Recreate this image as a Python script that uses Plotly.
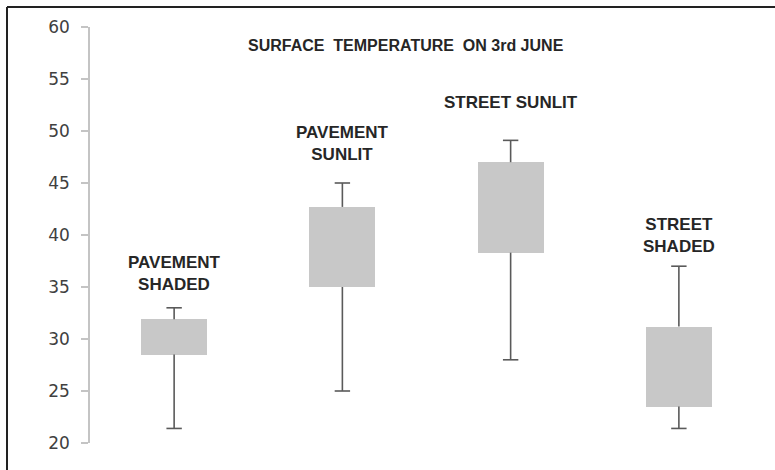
import numpy as np
import plotly.graph_objects as go

CATEGORIES = ["PAVEMENT SHADED", "PAVEMENT SUNLIT", "STREET SUNLIT", "STREET SHADED"]
LABELS = ["PAVEMENT<br>SHADED", "PAVEMENT<br>SUNLIT", "STREET SUNLIT", "STREET<br>SHADED"]
LOWER = [21.4, 25.0, 28.0, 21.4]
Q1 = [28.5, 35.0, 38.3, 23.5]
Q3 = [31.9, 42.7, 47.0, 31.2]
UPPER = [33.0, 45.0, 49.1, 37.0]
Y_TICKS = [20, 25, 30, 35, 40, 45, 50, 55, 60]

TITLE = "SURFACE  TEMPERATURE  ON 3rd JUNE"

BOX_COLOR = "#c8c8c8"
WHISKER_COLOR = "#5a5a5a"
TEXT_COLOR = "#262626"
AXIS_COLOR = "#c4c4c4"

# label centres (data units) as placed in the original
LABEL_Y = [36.3, 48.8, 52.7, 40.0]

W, H = 775, 470
MARGIN = {"l": 90, "r": 12, "t": 27, "b": 27}

x = np.arange(len(CATEGORIES))
lower = np.array(LOWER)
q1 = np.array(Q1)
q3 = np.array(Q3)
upper = np.array(UPPER)


def _whisker_segments(xs, starts, ends):
    seg_x, seg_y = [], []
    for xi, a, b in zip(xs, starts, ends):
        seg_x.extend((float(xi), float(xi), None))
        seg_y.extend((float(a), float(b), None))
    return seg_x, seg_y


fig = go.Figure()

ux, uy = _whisker_segments(x, q3, upper)
lx, ly = _whisker_segments(x, q1, lower)
fig.add_trace(
    go.Scatter(
        x=ux + lx,
        y=uy + ly,
        mode="lines",
        line={"color": WHISKER_COLOR, "width": 1.6},
        hoverinfo="skip",
        showlegend=False,
    )
)
fig.add_trace(
    go.Scatter(
        x=np.concatenate([x, x]),
        y=np.concatenate([upper, lower]),
        mode="markers",
        marker={"symbol": "line-ew", "size": 11, "line": {"color": WHISKER_COLOR, "width": 1.6}},
        hoverinfo="skip",
        showlegend=False,
    )
)
fig.add_trace(
    go.Bar(
        x=x,
        y=q3 - q1,
        base=q1,
        width=0.393,
        marker={"color": BOX_COLOR, "line": {"width": 0}},
        customdata=np.column_stack((lower, q1, q3, upper)),
        hovertemplate="Min %{customdata[0]}<br>Q1 %{customdata[1]}<br>Q3 %{customdata[2]}<br>Max %{customdata[3]}<extra></extra>",
        showlegend=False,
    )
)

for xi, label, ly_ in zip(x, LABELS, LABEL_Y):
    fig.add_annotation(
        x=xi,
        y=ly_,
        text=f"<b>{label}</b>",
        showarrow=False,
        font={"family": "Liberation Sans, Arial, sans-serif", "size": 17, "color": TEXT_COLOR},
        align="center",
        yanchor="middle",
    )

plot_w = W - MARGIN["l"] - MARGIN["r"]
plot_h = H - MARGIN["t"] - MARGIN["b"]

fig.add_annotation(
    x=(406 - MARGIN["l"]) / plot_w,
    y=(H - MARGIN["b"] - 46) / plot_h,
    xref="paper",
    yref="paper",
    text=f"<b>{TITLE}</b>",
    showarrow=False,
    font={"family": "Liberation Sans, Arial, sans-serif", "size": 16, "color": TEXT_COLOR},
    yanchor="middle",
)

# outer chart frame: only its left and top edges fall inside the picture
frame_left = (7 - MARGIN["l"]) / plot_w
frame_top = (H - MARGIN["b"] - 7) / plot_h
frame_right = (W - MARGIN["l"]) / plot_w
frame_bottom = -MARGIN["b"] / plot_h
for x0, y0, x1, y1 in (
    (frame_left, frame_bottom, frame_left, frame_top),
    (frame_left, frame_top, frame_right, frame_top),
):
    fig.add_shape(
        type="line",
        xref="paper",
        yref="paper",
        x0=x0,
        y0=y0,
        x1=x1,
        y1=y1,
        line={"color": "#222222", "width": 2},
        layer="below",
    )

fig.update_layout(
    width=W,
    height=H,
    margin=MARGIN,
    paper_bgcolor="white",
    plot_bgcolor="white",
    showlegend=False,
    bargap=0,
    xaxis={"range": [-0.5, 3.5], "visible": False, "fixedrange": True},
    yaxis={
        "range": [20, 60],
        "tickvals": Y_TICKS,
        "showgrid": False,
        "zeroline": False,
        "showline": True,
        "linecolor": AXIS_COLOR,
        "linewidth": 1.5,
        "ticks": "outside",
        "ticklen": 7,
        "tickwidth": 1.5,
        "tickcolor": AXIS_COLOR,
        "ticklabelstandoff": 8,
        "tickfont": {"family": "DejaVu Sans, Verdana, sans-serif", "size": 17, "color": "#404040"},
        "fixedrange": True,
    },
)

# the page body has a default 8px margin and may scroll; pin the figure at 0,0
fig.write_html(
    "out.html",
    config={"displayModeBar": False},
    post_script=(
        "document.documentElement.style.overflow='hidden';"
        "document.body.style.overflow='hidden';"
        "document.body.style.margin='0';"
    ),
)
